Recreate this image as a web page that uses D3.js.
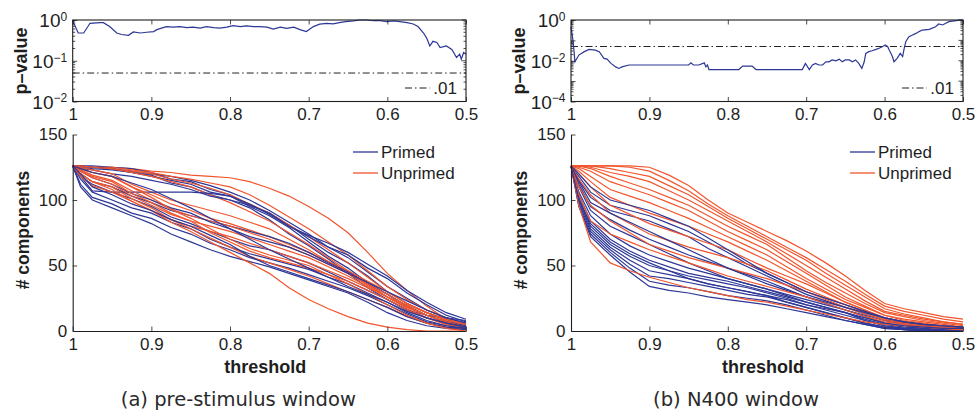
<!DOCTYPE html>
<html>
<head>
<meta charset="utf-8">
<script src="https://cdn.jsdelivr.net/npm/d3@7"></script>
<style>
  body { margin: 0; background: #fff; }
  svg { display: block; }
</style>
</head>
<body>
<svg id="chart" width="978" height="416"></svg>
<script>
// thresholds shared by all component curves
const gridT = [1, 0.99, 0.975, 0.95, 0.925, 0.9, 0.875, 0.85, 0.825, 0.8, 0.775, 0.75, 0.725, 0.7,
  0.675, 0.65, 0.625, 0.6, 0.575, 0.55, 0.525, 0.5];
const xTicks = [1, 0.9, 0.8, 0.7, 0.6, 0.5];
const countTicks = [0, 50, 100, 150];
const sigLevel = 0.05;

// (a) pre-stimulus window: p-value trace
const pThreshA = [1.000, 0.993, 0.986, 0.978, 0.965, 0.961, 0.953, 0.944, 0.938, 0.929, 0.923, 0.914, 0.906, 0.897, 0.893,
  0.881, 0.872, 0.864, 0.855, 0.847, 0.838, 0.830, 0.821, 0.813, 0.804, 0.796, 0.787, 0.779, 0.770, 0.762, 0.753, 0.745,
  0.736, 0.728, 0.719, 0.711, 0.703, 0.694, 0.686, 0.677, 0.669, 0.661, 0.653, 0.643, 0.635, 0.626, 0.618, 0.609, 0.601,
  0.592, 0.584, 0.575, 0.567, 0.561, 0.554, 0.550, 0.546, 0.542, 0.537, 0.533, 0.525, 0.518, 0.512, 0.508, 0.506, 0.503, 0.500];
const pValA = [0.96, 0.48, 0.48, 0.83, 0.86, 0.86, 0.69, 0.48, 0.44, 0.42, 0.51, 0.48, 0.50, 0.52, 0.58,
  0.69, 0.67, 0.69, 0.65, 0.67, 0.63, 0.69, 0.65, 0.63, 0.67, 0.73, 0.69, 0.72, 0.69, 0.69, 0.67, 0.60,
  0.67, 0.62, 0.67, 0.58, 0.52, 0.69, 0.79, 0.83, 0.80, 0.86, 0.91, 0.95, 1.0, 1.0, 0.96, 0.96, 0.91,
  0.95, 0.91, 0.86, 0.80, 0.69, 0.48, 0.36, 0.23, 0.30, 0.28, 0.21, 0.23, 0.19, 0.12, 0.145, 0.11, 0.16, 0.145];

// (b) N400 window: p-value trace
const pThreshB = [1.000, 0.997, 0.995, 0.990, 0.983, 0.977, 0.969, 0.964, 0.958, 0.954, 0.949, 0.943, 0.939, 0.935, 0.926,
  0.850, 0.847, 0.844, 0.837, 0.830, 0.828, 0.826, 0.824, 0.786, 0.781, 0.769, 0.764, 0.705, 0.701, 0.696, 0.692, 0.688,
  0.684, 0.679, 0.675, 0.671, 0.667, 0.662, 0.658, 0.654, 0.650, 0.645, 0.641, 0.637, 0.633, 0.629, 0.626, 0.624, 0.620,
  0.616, 0.611, 0.607, 0.603, 0.599, 0.596, 0.594, 0.590, 0.588, 0.584, 0.580, 0.577, 0.575, 0.573, 0.569, 0.565, 0.560,
  0.556, 0.552, 0.543, 0.535, 0.531, 0.526, 0.522, 0.518, 0.509, 0.500];
const pValB = [0.47, 0.071, 0.0089, 0.019, 0.028, 0.036, 0.033, 0.028, 0.013, 0.012, 0.0074, 0.005, 0.0042, 0.005, 0.0062,
  0.0062, 0.0079, 0.0062, 0.0062, 0.0079, 0.005, 0.0062, 0.0037, 0.0037, 0.0055, 0.0055, 0.0037, 0.0037, 0.0074, 0.0037, 0.0062, 0.0074,
  0.0062, 0.0062, 0.0089, 0.0089, 0.011, 0.010, 0.012, 0.0089, 0.011, 0.011, 0.0089, 0.011, 0.0074, 0.0042, 0.0089, 0.023, 0.028,
  0.031, 0.036, 0.041, 0.049, 0.059, 0.049, 0.033, 0.016, 0.0089, 0.013, 0.023, 0.016, 0.041, 0.086, 0.15, 0.18, 0.22,
  0.27, 0.32, 0.35, 0.47, 0.64, 0.57, 0.69, 0.83, 0.93, 1.0];

// # components per subject, sampled at gridT
const primedA = [
  [126, 126, 125, 124, 122, 120, 118, 115, 111, 106, 100, 92, 83, 74, 64, 56, 45, 34, 25, 16, 10, 6],
  [126, 126, 126, 125, 124, 121, 116, 114, 108, 104, 96, 90, 81, 70, 60, 52, 42, 30, 21, 14, 9, 5],
  [126, 125, 124, 123, 121, 118, 115, 112, 106, 103, 95, 88, 79, 68, 57, 48, 37, 28, 19, 12, 7, 4],
  [126, 126, 125, 124, 121, 119, 113, 110, 104, 100, 94, 85, 74, 65, 55, 44, 33, 24, 16, 12, 10, 8],
  [126, 124, 123, 120, 118, 115, 112, 108, 103, 100, 96, 90, 80, 72, 64, 58, 48, 40, 29, 20, 12, 7],
  [126, 118, 107, 106, 106, 106, 106, 106, 105, 103, 97, 89, 80, 73, 67, 60, 51, 42, 31, 22, 14, 9],
  [126, 120, 114, 110, 103, 98, 92, 88, 84, 80, 76, 72, 67, 60, 52, 45, 36, 28, 19, 12, 7, 4],
  [126, 122, 117, 112, 105, 100, 94, 90, 83, 78, 72, 68, 64, 58, 51, 44, 37, 30, 23, 16, 10, 6],
  [126, 118, 112, 106, 101, 95, 87, 82, 76, 70, 65, 62, 57, 52, 45, 38, 31, 24, 16, 10, 6, 3],
  [126, 116, 106, 100, 94, 90, 83, 78, 70, 64, 59, 55, 51, 47, 41, 36, 29, 22, 14, 8, 4, 2],
  [126, 112, 102, 97, 90, 86, 79, 74, 67, 62, 56, 52, 48, 43, 38, 33, 27, 20, 13, 7, 4, 2],
  [126, 110, 100, 94, 88, 82, 74, 68, 62, 57, 53, 49, 44, 39, 34, 29, 22, 14, 8, 4, 2, 1],
  [126, 120, 110, 104, 97, 92, 85, 80, 73, 66, 57, 50, 45, 40, 35, 30, 24, 18, 11, 6, 3, 2],
  [126, 124, 121, 118, 113, 108, 101, 94, 86, 78, 70, 62, 55, 48, 41, 34, 28, 22, 15, 10, 6, 3]
];
const unprimedA = [
  [126, 126, 125, 125, 124, 122, 121, 119, 118, 117, 114, 109, 103, 95, 86, 75, 60, 44, 31, 19, 9, 2],
  [126, 126, 125, 125, 123, 121, 118, 116, 113, 110, 104, 96, 87, 78, 68, 58, 46, 34, 24, 16, 10, 5],
  [126, 126, 125, 124, 122, 120, 116, 113, 109, 104, 97, 90, 81, 72, 62, 52, 41, 30, 21, 14, 8, 4],
  [126, 126, 125, 124, 121, 118, 114, 110, 104, 98, 91, 84, 75, 66, 56, 46, 36, 26, 18, 12, 7, 3],
  [126, 125, 123, 120, 112, 106, 100, 96, 92, 88, 83, 78, 70, 62, 53, 44, 35, 26, 17, 10, 5, 2],
  [126, 124, 121, 118, 110, 104, 97, 92, 86, 82, 77, 72, 66, 60, 53, 46, 38, 30, 21, 14, 8, 4],
  [126, 123, 119, 115, 107, 100, 93, 88, 84, 80, 75, 70, 64, 58, 51, 44, 36, 28, 19, 12, 7, 3],
  [126, 122, 117, 112, 103, 96, 89, 84, 80, 76, 71, 66, 61, 56, 49, 42, 34, 26, 18, 12, 6, 2],
  [126, 120, 114, 108, 99, 92, 85, 80, 76, 72, 67, 62, 57, 52, 46, 40, 33, 26, 20, 14, 9, 5],
  [126, 122, 118, 114, 105, 98, 90, 84, 75, 68, 61, 56, 52, 48, 43, 38, 31, 24, 16, 10, 5, 2],
  [126, 120, 114, 110, 101, 94, 85, 78, 71, 64, 57, 52, 47, 42, 36, 30, 24, 18, 11, 6, 3, 1],
  [126, 118, 111, 106, 99, 92, 83, 76, 68, 60, 52, 44, 33, 24, 17, 11, 6, 3, 1, 0, 0, 0],
  [126, 124, 121, 118, 110, 102, 93, 86, 78, 70, 63, 58, 54, 50, 43, 36, 28, 20, 12, 6, 2, 0]
];
const primedB = [
  [126, 118, 106, 96, 92, 88, 82, 76, 68, 60, 51, 44, 37, 30, 25, 20, 15, 10, 7, 4, 3, 2],
  [126, 115, 102, 92, 88, 84, 78, 72, 63, 56, 49, 42, 35, 28, 23, 18, 13, 8, 5, 3, 2, 1],
  [126, 112, 95, 85, 77, 70, 64, 58, 53, 48, 43, 38, 32, 26, 21, 16, 11, 6, 4, 2, 1, 1],
  [126, 106, 88, 74, 65, 58, 53, 48, 44, 40, 36, 32, 27, 22, 18, 14, 9, 5, 3, 2, 1, 0],
  [126, 104, 84, 70, 61, 54, 49, 44, 41, 38, 34, 30, 26, 22, 18, 14, 8, 4, 2, 1, 1, 0],
  [126, 102, 80, 66, 57, 50, 46, 42, 39, 36, 33, 29, 25, 20, 16, 12, 8, 4, 2, 1, 0, 0],
  [126, 100, 78, 64, 54, 46, 43, 40, 36, 33, 30, 27, 22, 18, 14, 10, 6, 3, 2, 1, 0, 0],
  [126, 98, 76, 62, 51, 42, 40, 37, 34, 31, 28, 26, 22, 18, 14, 10, 6, 3, 1, 0, 0, 0],
  [126, 96, 74, 60, 48, 38, 35, 33, 30, 27, 25, 23, 20, 16, 12, 8, 5, 2, 1, 0, 0, 0],
  [126, 95, 72, 58, 45, 34, 31, 29, 26, 24, 22, 20, 17, 14, 11, 8, 5, 2, 1, 0, 0, 0],
  [126, 110, 92, 80, 73, 66, 59, 52, 46, 40, 36, 32, 28, 24, 20, 16, 12, 8, 6, 4, 3, 3],
  [126, 114, 98, 90, 83, 76, 69, 62, 55, 48, 42, 36, 31, 26, 22, 18, 14, 10, 7, 5, 4, 3],
  [126, 120, 110, 100, 96, 92, 86, 80, 71, 62, 53, 44, 37, 30, 25, 20, 15, 10, 7, 5, 4, 3],
  [126, 100, 82, 68, 59, 52, 46, 40, 36, 33, 30, 27, 24, 20, 17, 14, 10, 6, 4, 3, 2, 2]
];
const unprimedB = [
  [126, 126, 126, 126, 126, 125, 119, 111, 100, 90, 83, 76, 69, 61, 52, 42, 31, 21, 17, 14, 11, 9],
  [126, 126, 126, 126, 125, 122, 115, 107, 97, 88, 80, 72, 64, 56, 47, 38, 28, 19, 15, 12, 9, 7],
  [126, 126, 126, 124, 121, 118, 111, 104, 95, 86, 78, 70, 62, 54, 44, 35, 26, 17, 13, 10, 7, 5],
  [126, 126, 125, 121, 118, 114, 107, 100, 92, 84, 76, 68, 59, 50, 41, 32, 23, 15, 12, 9, 7, 5],
  [126, 126, 124, 118, 113, 108, 102, 96, 88, 80, 73, 66, 56, 46, 37, 29, 21, 14, 11, 8, 6, 4],
  [126, 125, 122, 114, 109, 104, 98, 92, 84, 76, 69, 62, 53, 44, 35, 26, 19, 12, 9, 7, 5, 3],
  [126, 124, 118, 108, 103, 98, 92, 86, 79, 72, 65, 58, 49, 40, 32, 24, 18, 12, 8, 6, 4, 3],
  [126, 122, 114, 102, 96, 90, 85, 80, 74, 68, 61, 54, 46, 38, 30, 22, 16, 10, 7, 5, 3, 2],
  [126, 120, 110, 96, 89, 82, 77, 72, 67, 62, 55, 48, 42, 36, 29, 22, 16, 10, 7, 5, 3, 2],
  [126, 116, 104, 90, 82, 74, 69, 64, 60, 56, 51, 46, 39, 32, 26, 20, 14, 9, 6, 4, 3, 2],
  [126, 110, 96, 84, 75, 66, 61, 56, 52, 48, 44, 40, 35, 30, 24, 18, 13, 8, 6, 4, 3, 2],
  [126, 96, 68, 52, 46, 41, 37, 33, 30, 27, 24, 22, 19, 16, 13, 10, 7, 5, 4, 3, 2, 1],
  [126, 104, 84, 74, 68, 62, 57, 52, 47, 42, 38, 34, 30, 26, 21, 16, 11, 7, 5, 3, 2, 1]
];

const seriesNames = ['Primed', 'Unprimed'];
const captions = ['(a) pre-stimulus window', '(b) N400 window'];

const BLUE = '#2d3796';
const RED = '#f2552c';
const INK = '#1e1e1e';
const FONT = '"Liberation Sans", Arial, Helvetica, sans-serif';

const panels = [
  { x0: 72.7, x1: 466, pMin: 1e-2, pTicks: [1e-2, 1e-1, 1], pT: pThreshA, pV: pValA,
    primed: primedA, unprimed: unprimedA, caption: captions[0] },
  { x0: 571, x1: 963, pMin: 1e-4, pTicks: [1e-4, 1e-2, 1], pT: pThreshB, pV: pValB,
    primed: primedB, unprimed: unprimedB, caption: captions[1] }
];

const svg = d3.select('#chart');

const superLabel = (sel) => {
  sel.each(function (d) {
    const e = Math.round(Math.log10(d));
    const t = d3.select(this).text('10');
    t.append('tspan')
      .attr('dy', '-0.55em')
      .attr('font-size', 12)
      .text(e < 0 ? '\u2212' + (-e) : String(e));
  });
};

panels.forEach((p) => {
  const x = d3.scaleLinear().domain([1, 0.5]).range([p.x0, p.x1]);
  const g = svg.append('g');

  // ---------- top: p-value ----------
  const yP = d3.scaleLog().domain([p.pMin, 1]).range([101.5, 20]);
  const top = g.append('g');

  // minor log ticks (inward, both sides)
  const minor = [];
  for (let e = Math.round(Math.log10(p.pMin)); e < 0; e++) {
    for (let k = 2; k <= 9; k++) minor.push(k * Math.pow(10, e));
  }
  const majorAll = d3.range(Math.round(Math.log10(p.pMin)), 1).map((e) => Math.pow(10, e));
  top.append('g').selectAll('line')
    .data(minor)
    .join('line')
    .attr('x1', p.x0).attr('x2', p.x0 + 2.5)
    .attr('y1', (d) => yP(d)).attr('y2', (d) => yP(d))
    .attr('stroke', INK).attr('stroke-width', 0.8);
  top.append('g').selectAll('line')
    .data(minor)
    .join('line')
    .attr('x1', p.x1).attr('x2', p.x1 - 2.5)
    .attr('y1', (d) => yP(d)).attr('y2', (d) => yP(d))
    .attr('stroke', INK).attr('stroke-width', 0.8);
  top.append('g').selectAll('line')
    .data(majorAll)
    .join('line')
    .attr('x1', p.x1).attr('x2', p.x1 - 4.5)
    .attr('y1', (d) => yP(d)).attr('y2', (d) => yP(d))
    .attr('stroke', INK).attr('stroke-width', 0.8);

  // significance line
  top.append('line')
    .attr('x1', p.x0).attr('x2', p.x1)
    .attr('y1', yP(sigLevel)).attr('y2', yP(sigLevel))
    .attr('stroke', '#222').attr('stroke-width', 1)
    .attr('stroke-dasharray', '7,3,1.5,3');

  // p-value trace
  const pLine = d3.line()
    .x((d, i) => x(p.pT[i]))
    .y((d) => yP(d));
  top.append('path')
    .datum(p.pV)
    .attr('d', pLine)
    .attr('fill', 'none')
    .attr('stroke', BLUE)
    .attr('stroke-width', 1.2);

  // axes
  const axL = top.append('g')
    .attr('transform', `translate(${p.x0},0)`)
    .call(d3.axisLeft(yP).tickValues(majorAll).tickSizeInner(-4.5).tickSizeOuter(0).tickPadding(5.5).tickFormat(''));
  axL.selectAll('.tick text').remove();
  axL.selectAll('.tick')
    .filter((d) => p.pTicks.includes(d))
    .append('text')
    .attr('x', -5.5)
    .attr('dy', '0.36em')
    .attr('text-anchor', 'end')
    .attr('fill', INK)
    .attr('font-family', FONT)
    .attr('font-size', 19)
    .call(superLabel);

  top.append('g')
    .attr('transform', 'translate(0,101.5)')
    .call(d3.axisBottom(x).tickValues(xTicks).tickSizeInner(-4.5).tickSizeOuter(0).tickPadding(6.5)
      .tickFormat((d) => (d === 1 ? '1' : d.toFixed(1))))
    .call((a) => a.selectAll('text').attr('font-size', 17).attr('font-family', FONT).attr('fill', INK));
  top.append('g')
    .attr('transform', 'translate(0,20)')
    .call(d3.axisTop(x).tickValues(xTicks).tickSizeInner(-4.5).tickSizeOuter(0).tickFormat(''));
  top.selectAll('.domain').remove();
  top.selectAll('.tick line').attr('stroke', INK).attr('stroke-width', 0.8);
  top.append('rect')
    .attr('x', p.x0).attr('y', 20)
    .attr('width', p.x1 - p.x0).attr('height', 81.5)
    .attr('fill', 'none').attr('stroke', INK).attr('stroke-width', 1.1);

  // legend ".01"
  const lx = p.x1 - 61;
  top.append('line')
    .attr('x1', lx).attr('x2', lx + 25)
    .attr('y1', 88).attr('y2', 88)
    .attr('stroke', '#222').attr('stroke-width', 1)
    .attr('stroke-dasharray', '7,3,1.5,3');
  top.append('text')
    .attr('x', p.x1 - 9).attr('y', 94)
    .attr('text-anchor', 'end')
    .attr('font-family', FONT).attr('font-size', 17).attr('fill', INK)
    .text('.01');

  top.append('text')
    .attr('transform', `translate(${p.x0 - 52},61) rotate(-90)`)
    .attr('text-anchor', 'middle')
    .attr('dy', '0.35em')
    .attr('font-family', FONT).attr('font-weight', 'bold').attr('font-size', 18).attr('fill', INK)
    .text('p\u2013value');

  // ---------- bottom: # components ----------
  const yC = d3.scaleLinear().domain([0, 150]).range([331, 134.5]);
  const bot = g.append('g');

  const cLine = d3.line()
    .x((d, i) => x(gridT[i]))
    .y((d) => yC(d));
  const n = Math.max(p.primed.length, p.unprimed.length);
  for (let i = 0; i < n; i++) {
    if (p.primed[i]) {
      bot.append('path').datum(p.primed[i]).attr('d', cLine)
        .attr('fill', 'none').attr('stroke', BLUE).attr('stroke-width', 1.2);
    }
    if (p.unprimed[i]) {
      bot.append('path').datum(p.unprimed[i]).attr('d', cLine)
        .attr('fill', 'none').attr('stroke', RED).attr('stroke-width', 1.2);
    }
  }

  bot.append('g')
    .attr('transform', 'translate(0,331)')
    .call(d3.axisBottom(x).tickValues(xTicks).tickSizeInner(-4.5).tickSizeOuter(0).tickPadding(7)
      .tickFormat((d) => (d === 1 ? '1' : d.toFixed(1))));
  bot.append('g')
    .attr('transform', `translate(${p.x0},0)`)
    .call(d3.axisLeft(yC).tickValues(countTicks).tickSizeInner(-4.5).tickSizeOuter(0).tickPadding(5.5));
  bot.selectAll('.domain').attr('stroke', INK).attr('stroke-width', 1.1);
  bot.selectAll('.tick line').attr('stroke', INK).attr('stroke-width', 0.8);
  bot.selectAll('.tick text').attr('font-size', 17).attr('font-family', FONT).attr('fill', INK);

  // legend
  const legX = p.x1 - 113;
  [BLUE, RED].forEach((c, i) => {
    const ly = 152 + i * 21;
    bot.append('line')
      .attr('x1', legX).attr('x2', legX + 25)
      .attr('y1', ly).attr('y2', ly)
      .attr('stroke', c).attr('stroke-width', 1.3);
    bot.append('text')
      .attr('x', legX + 28).attr('y', ly)
      .attr('dy', '0.36em')
      .attr('font-family', FONT).attr('font-size', 17).attr('fill', INK)
      .text(seriesNames[i]);
  });

  bot.append('text')
    .attr('transform', `translate(${p.x0 - 50},230) rotate(-90)`)
    .attr('text-anchor', 'middle')
    .attr('dy', '0.35em')
    .attr('font-family', FONT).attr('font-weight', 'bold').attr('font-size', 17.5).attr('fill', INK)
    .text('# components');

  bot.append('text')
    .attr('x', (p.x0 + p.x1) / 2 - 4).attr('y', 373)
    .attr('text-anchor', 'middle')
    .attr('font-family', FONT).attr('font-weight', 'bold').attr('font-size', 18).attr('fill', INK)
    .text('threshold');

  g.append('text')
    .attr('x', (p.x0 + p.x1) / 2 - 31).attr('y', 406)
    .attr('text-anchor', 'middle')
    .attr('font-family', '"DejaVu Sans", sans-serif').attr('font-size', 19.5).attr('fill', '#2a2a2a')
    .text(p.caption);
});
</script>
</body>
</html>
